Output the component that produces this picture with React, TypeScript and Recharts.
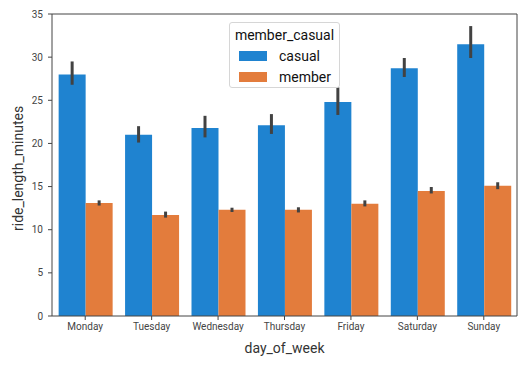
import { BarChart, Bar, XAxis, YAxis, ErrorBar } from "recharts";

const days = ["Monday", "Tuesday", "Wednesday", "Thursday", "Friday", "Saturday", "Sunday"];
const casual = [28.0, 21.0, 21.8, 22.1, 24.8, 28.7, 31.5];
const casualLow = [26.8, 20.1, 20.7, 21.1, 23.3, 27.7, 29.9];
const casualHigh = [29.5, 22.0, 23.2, 23.4, 26.5, 29.9, 33.6];
const member = [13.1, 11.7, 12.3, 12.3, 13.0, 14.5, 15.1];
const memberLow = [12.8, 11.4, 12.05, 12.0, 12.7, 14.2, 14.7];
const memberHigh = [13.4, 12.1, 12.55, 12.6, 13.4, 14.95, 15.5];
const yTicks = [0, 5, 10, 15, 20, 25, 30, 35];

const BLUE = "#1f83d0";
const ORANGE = "#e37c3c";
const ERR = "#424242";

const data = days.map((d, i) => ({
  day: d,
  casual: casual[i],
  casualErr: [casual[i] - casualLow[i], casualHigh[i] - casual[i]],
  member: member[i],
  memberErr: [member[i] - memberLow[i], memberHigh[i] - member[i]],
}));

function LegendBox() {
  const item = (color: string, label: string) => (
    <div style={{ display: "flex", alignItems: "center", height: 21 }}>
      <div style={{ width: 28, height: 10, background: color, marginLeft: 9, marginRight: 12 }} />
      <span style={{ fontSize: 14, color: "#111" }}>{label}</span>
    </div>
  );
  return (
    <div
      style={{
        position: "absolute",
        left: 229,
        top: 22,
        width: 111,
        height: 66,
        boxSizing: "border-box",
        border: "1px solid #d6d6d6",
        borderRadius: 3,
        background: "rgba(255,255,255,0.85)",
        fontFamily: "Roboto",
        paddingTop: 2,
      }}
    >
      <div style={{ fontSize: 14, color: "#111", textAlign: "center", height: 20, lineHeight: "20px" }}>member_casual</div>
      {item(BLUE, "casual")}
      {item(ORANGE, "member")}
    </div>
  );
}

export default function App() {
  const tick = { fontSize: 10, fill: "#444", fontFamily: "Roboto" };
  return (
    <div style={{ position: "fixed", left: 0, top: 0, width: 527, height: 365, background: "#fff" }}>
      <BarChart
        width={527}
        height={365}
        data={data}
        margin={{ top: 13, right: 9, left: 12, bottom: 19 }}
        barCategoryGap="10%"
        barGap={0}
      >
        <XAxis
          dataKey="day"
          tick={tick}
          tickSize={4}
          tickMargin={3}
          stroke="#444"
          height={30}
          label={{ value: "day_of_week", position: "insideBottom", offset: -7, fontSize: 14, fill: "#333", fontFamily: "Roboto" }}
        />
        <XAxis xAxisId="top" orientation="top" dataKey="day" tick={false} tickLine={false} height={1} stroke="#444" />
        <YAxis
          domain={[0, 35]}
          ticks={yTicks}
          tick={tick}
          tickSize={4}
          tickMargin={5}
          stroke="#444"
          width={40}
          label={{ value: "ride_length_minutes", angle: -90, position: "insideLeft", offset: 6, dy: 66, fontSize: 14, fill: "#333", fontFamily: "Roboto" }}
        />
        <YAxis yAxisId="right" orientation="right" domain={[0, 35]} tick={false} tickLine={false} width={1} stroke="#444" />
        <Bar dataKey="casual" fill={BLUE} isAnimationActive={false}>
          <ErrorBar dataKey="casualErr" width={0} stroke={ERR} strokeWidth={3} />
        </Bar>
        <Bar dataKey="member" fill={ORANGE} isAnimationActive={false}>
          <ErrorBar dataKey="memberErr" width={0} stroke={ERR} strokeWidth={3} />
        </Bar>
      </BarChart>
      <LegendBox />
    </div>
  );
}
